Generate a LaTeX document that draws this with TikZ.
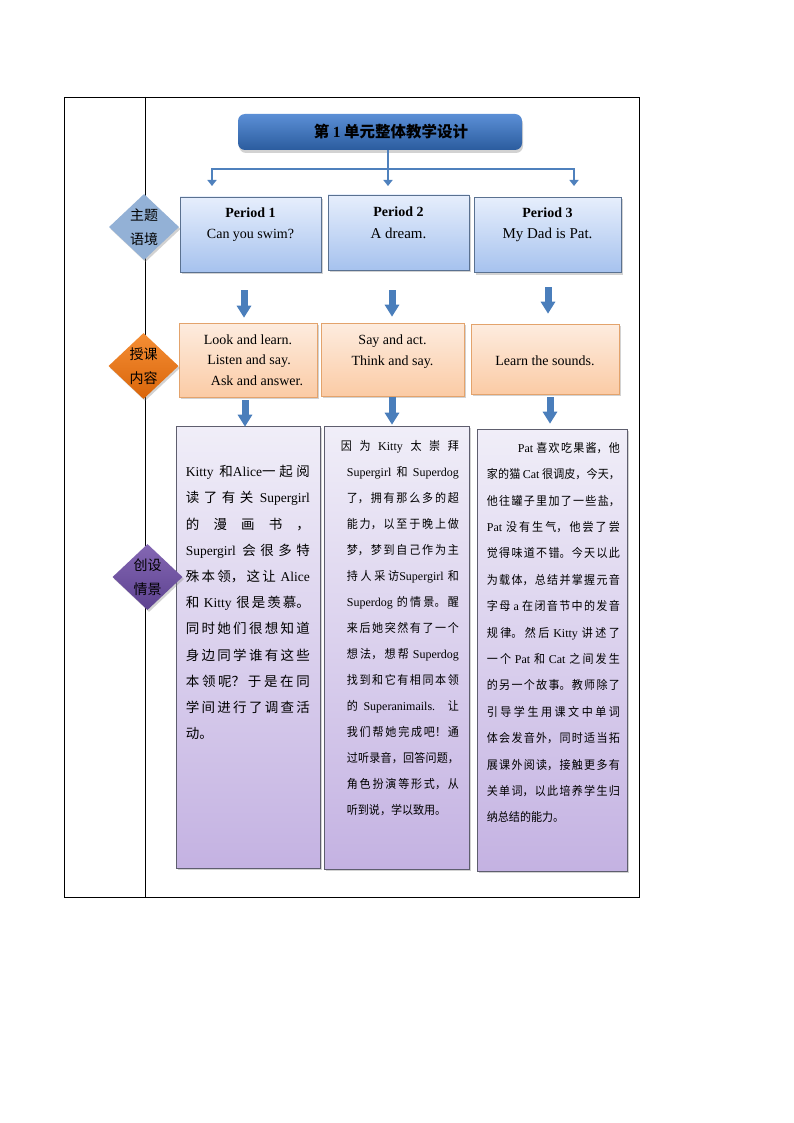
\documentclass[tikz,border=0pt]{standalone}
\usepackage{fontspec}
\setmainfont{Liberation Serif}
\newfontfamily\cjk{Noto Sans CJK SC}
\newfontfamily\cjknarrow[FakeStretch=0.92]{Noto Sans CJK SC}
\usetikzlibrary{shapes.geometric,shadows,arrows.meta,calc}
\XeTeXlinebreaklocale "zh"
\XeTeXlinebreakskip=0pt plus 2pt
\tolerance=10000
\hyphenpenalty=10000
\newcommand\eng[1]{{\rmfamily #1}}
\definecolor{linkblue}{HTML}{4F81BD}
\definecolor{arrowblue}{HTML}{4A7EBB}
\definecolor{titletop}{HTML}{5B8FD6}
\definecolor{titlebot}{HTML}{2B5C9E}
\definecolor{ptop}{HTML}{E6EEFC}
\definecolor{pbot}{HTML}{A6C2EE}
\definecolor{pline}{HTML}{5A7190}
\definecolor{otop}{HTML}{FDECDF}
\definecolor{obot}{HTML}{FBCBA5}
\definecolor{oline}{HTML}{E3A36C}
\definecolor{ltop}{HTML}{F0EEF8}
\definecolor{lbot}{HTML}{C4B2E2}
\definecolor{lline}{HTML}{5E5E6E}
\definecolor{dblue}{HTML}{93B1D6}
\definecolor{dorangetop}{HTML}{F58E35}
\definecolor{dorangebot}{HTML}{D9650A}
\definecolor{dpurpletop}{HTML}{8467B3}
\definecolor{dpurplebot}{HTML}{5D4290}

\begin{document}
\begin{tikzpicture}[x=1pt, y=-1pt,
  frame/.style={draw=black, line width=0.7pt},
  shade/.style={drop shadow={shadow xshift=1.5pt, shadow yshift=-2pt, opacity=0.35}},
  titlebox/.style={rectangle, rounded corners=7pt, top color=titletop, bottom color=titlebot,
    minimum width=284pt, minimum height=36pt, inner sep=0pt,
    drop shadow={shadow xshift=1pt, shadow yshift=-3pt, opacity=0.35}},
  periodbox/.style={rectangle, draw=pline, line width=0.6pt, top color=ptop, bottom color=pbot, shade},
  lessonbox/.style={rectangle, draw=oline, line width=0.6pt, top color=otop, bottom color=obot, shade},
  storybox/.style={rectangle, draw=lline, line width=0.6pt, top color=ltop, bottom color=lbot, shade},
  tag/.style={diamond, minimum width=70pt, minimum height=66pt, inner sep=0pt, align=center,
    font=\cjk\fontsize{14}{24}\selectfont, shade},
  boxtext/.style={align=center, inner sep=0pt, font=\fontsize{14}{21.5}\selectfont},
  story/.style={anchor=base west, text width=#1, align=justify, inner sep=0pt},
  link/.style={draw=linkblue, line width=2pt},
  fat/.style={draw=arrowblue, line width=7pt, -{Triangle[width=14pt,length=12pt]}}]

\path[use as bounding box, fill=white] (0,0) rectangle (794,1123);

% frame
\draw[frame] (64,97) rectangle (639,897);
\draw[frame] (145,97) -- (145,897);

% title
\node[titlebox, font=\cjk\bfseries\fontsize{15.5}{18}\selectfont] (title) at (380,132)
  {\hspace*{22pt}第 \eng{1} 单元整体教学设计};

\coordinate (hub) at (388,169);
\coordinate (t1) at (212,186);
\coordinate (t2) at (388,186);
\coordinate (t3) at (574,186);
\draw[link] (title.south -| hub) -- (hub);
\draw[link, -{Triangle[width=9pt,length=6pt]}] (hub) -| (t1);
\draw[link, -{Triangle[width=9pt,length=6pt]}] (hub) -- (t2);
\draw[link, -{Triangle[width=9pt,length=6pt]}] (hub) -| (t3);

% periods
\node[periodbox, minimum width=141pt, minimum height=75pt] (p1) at (250.5,234.5) {};
\node[periodbox, minimum width=141pt, minimum height=75pt] (p2) at (398.5,232.5) {};
\node[periodbox, minimum width=147pt, minimum height=75pt] (p3) at (547.5,235) {};
\node[boxtext] (p1t) at ($(p1)+(0,-10)$) {\textbf{Period 1}\\Can you swim?};
\node[boxtext] (p2t) at ($(p2)+(0,-10)$) {\textbf{Period 2}\\{\fontsize{15}{21.5}\selectfont A dream.}};
\node[boxtext] (p3t) at ($(p3)+(0,-10)$) {\textbf{Period 3}\\{\fontsize{15}{21.5}\selectfont My Dad is Pat.}};

% lessons
\node[lessonbox, minimum width=138pt, minimum height=74pt] (o1) at (248,360) {};
\node[lessonbox, minimum width=143pt, minimum height=73pt] (o2) at (392.5,359.5) {};
\node[lessonbox, minimum width=148pt, minimum height=70pt] (o3) at (545,359) {};
\node[boxtext, font=\fontsize{14}{20.5}\selectfont] (o1t) at (o1)
  {Look and learn.\\\hspace*{2pt}Listen and say.\\\hspace*{18pt}Ask and answer.};
\node[boxtext, font=\fontsize{14}{20.5}\selectfont] (o2t) at ($(o2)+(0,-8)$) {Say and act.\\Think and say.};
\node[boxtext] (o3t) at ($(o3)+(0,2)$) {Learn the sounds.};

% stories
\node[storybox, minimum width=144pt, minimum height=442pt] (l1) at (248,647) {};
\node[storybox, minimum width=145pt, minimum height=443pt] (l2) at (396.5,647.5) {};
\node[storybox, minimum width=150pt, minimum height=442pt] (l3) at (552,650) {};

\node[story=124pt, font=\cjk\fontsize{13.5}{26.2}\selectfont] (l1t) at ($(l1.north west)+(10,51)$) {%
\eng{Kitty} 和\eng{Alice}一起阅\linebreak
读了有关 \eng{Supergirl}\linebreak
的 漫 画 书 ，\linebreak
\eng{Supergirl} 会很多特\linebreak
殊本领，这让 \eng{Alice}\linebreak
和 \eng{Kitty} 很是羡慕。\linebreak
同时她们很想知道\linebreak
身边同学谁有这些\linebreak
本领呢？于是在同\linebreak
学间进行了调查活\linebreak
动。};

\node[story=112pt, font=\cjknarrow\fontsize{12}{26}\selectfont] (l2t) at ($(l2.north west)+(23,25)$) {%
\hspace*{-6pt}因 为 \eng{Kitty} 太 崇 拜\linebreak
\eng{Supergirl} 和 \eng{Superdog}\linebreak
了，拥有那么多的超\linebreak
能力，以至于晚上做\linebreak
梦，梦到自己作为主\linebreak
持人采访\eng{Supergirl} 和\linebreak
\eng{Superdog} 的情景。醒\linebreak
来后她突然有了一个\linebreak
想法，想帮 \eng{Superdog}\linebreak
找到和它有相同本领\linebreak
的 \eng{Superanimails.} 让\linebreak
我们帮她完成吧！通\linebreak
过听录音，回答问题，\linebreak
角色扮演等形式，从\linebreak
听到说，学以致用。};

\node[story=133pt, font=\cjknarrow\fontsize{12}{26.4}\selectfont] (l3t) at ($(l3.north west)+(10,23.5)$) {%
\hspace*{31pt}\eng{Pat} 喜欢吃果酱，他\linebreak
家的猫 \eng{Cat} 很调皮，今天，\linebreak
他往罐子里加了一些盐，\linebreak
\eng{Pat} 没有生气，他尝了尝\linebreak
觉得味道不错。今天以此\linebreak
为载体，总结并掌握元音\linebreak
字母 \eng{a} 在闭音节中的发音\linebreak
规律。然后 \eng{Kitty} 讲述了\linebreak
一个 \eng{Pat} 和 \eng{Cat} 之间发生\linebreak
的另一个故事。教师除了\linebreak
引导学生用课文中单词\linebreak
体会发音外，同时适当拓\linebreak
展课外阅读，接触更多有\linebreak
关单词，以此培养学生归\linebreak
纳总结的能力。};

% block arrows
\draw[fat] ($(p1.south)+(-6.5,18)$) -- ($(o1.north)+(-4,-5)$);
\draw[fat] ($(p2.south)+(-6.5,20)$) -- ($(o2.north)+(-0.5,-6)$);
\draw[fat] ($(p3.south)+(0.5,14.5)$) -- ($(o3.north)+(3,-10)$);
\draw[fat] ($(o1.south)+(-3,3)$) -- ($(l1.north)+(-3,1)$);
\draw[fat] ($(o2.south)+(-0.5,1)$) -- ($(l2.north)+(-4.5,-1)$);
\draw[fat] ($(o3.south)+(5,3)$) -- ($(l3.north)+(-2,-5)$);

% tags
\node[tag, fill=dblue] (d1) at (144,227) {主题\\语境};
\node[tag, top color=dorangetop, bottom color=dorangebot] (d2) at (143.5,366) {授课\\内容};
\node[tag, top color=dpurpletop, bottom color=dpurplebot] (d3) at (147.5,577) {创设\\情景};
\end{tikzpicture}
\end{document}
